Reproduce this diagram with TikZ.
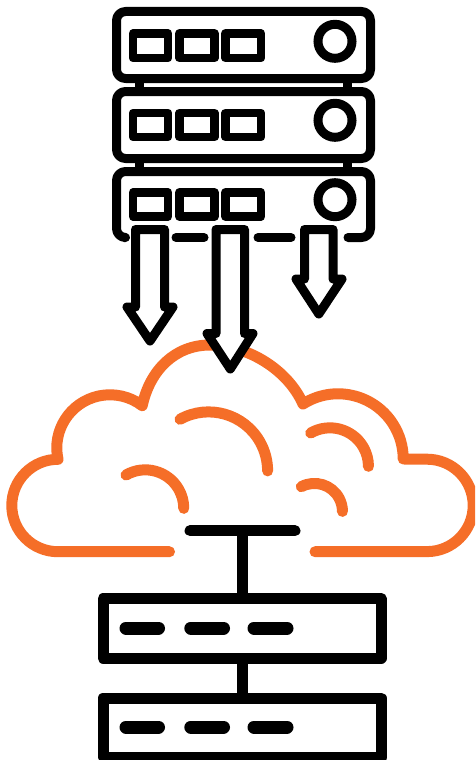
\documentclass[tikz,border=0pt]{standalone}
\definecolor{cloudorange}{HTML}{F56E28}
\tikzset{
  ink/.style={draw=black,line width=9pt,line join=round,line cap=round},
  chassis/.style={ink,rounded corners=9pt},
  slot/.style={draw=black,line width=8.7pt,line join=round,fill=white},
  knob/.style={draw=black,line width=9pt},
  downarrow/.style={draw=black,line width=9pt,line join=round,fill=white},
  cloudline/.style={draw=cloudorange,line width=11pt,line join=round,line cap=round},
  netbox/.style={draw=black,line width=11pt,line join=round},
  netline/.style={draw=black,line width=11pt,line cap=round},
  stem/.style={draw=black,line width=11pt},
  led/.style={draw=black,line width=13pt,line cap=round}
}
\begin{document}
\begin{tikzpicture}[x=1pt,y=1pt]
\useasboundingbox (0,0) rectangle (475,-760);
\clip (0,0) rectangle (475,-760);
\fill[white] (0,0) rectangle (475,-760);
% posts between servers
\draw[draw=black,line width=9pt] (139.5,-78) -- (139.5,-92) (347.5,-78) -- (347.5,-92);
\draw[draw=black,line width=9pt] (139.5,-158) -- (139.5,-172) (347.5,-158) -- (347.5,-172);
% servers
\draw[chassis] (116.5,-11.5) rectangle (370.5,-78.5);
\draw[chassis] (116.5,-91.5) rectangle (370.5,-158.5);
\draw[chassis] (124,-237.5) -- (116.5,-237.5) -- (116.5,-171.5) -- (370.5,-171.5) -- (370.5,-237.5) -- (348,-237.5);
\draw[ink] (176,-237.5) -- (204,-237.5);
\draw[ink] (258,-237.5) -- (291,-237.5);
% slots and knobs
\foreach \t/\b/\c in {33.5/58/41.3, 113/137/120.3, 192.5/216.5/199.7}{
  \draw[slot] (133,-\t) rectangle (168,-\b);
  \draw[slot] (179.5,-\t) rectangle (214.5,-\b);
  \draw[slot] (225.5,-\t) rectangle (261,-\b);
  \draw[knob] (335,-\c) circle[radius=17pt];
}
% cloud
\draw[cloudline] (169.5,-551.7) -- (58,-551.7)
  arc[start angle=270,end angle=90,radius=46.2pt]
  arc[start angle=192.3,end angle=52.7,radius=53.2pt]
  .. controls (150,-370) and (175,-345) .. (210,-345)
  .. controls (248,-345) and (288,-370) .. (303,-404)
  arc[start angle=122.5,end angle=0,radius=65.2pt]
  -- (427,-459.2)
  arc[start angle=90,end angle=-90,radius=46.2pt]
  -- (315,-551.7);
\draw[cloudline] (180,-419.3) arc[start angle=119,end angle=0,radius=59pt];
\draw[cloudline] (310.7,-433) arc[start angle=120,end angle=0,radius=38.5pt];
\draw[cloudline] (126,-475) arc[start angle=120,end angle=0,radius=38.5pt];
\draw[cloudline] (301.3,-486.7) arc[start angle=118,end angle=0,radius=28pt];
% arrows
\draw[downarrow] (135.5,-307) -- (135.5,-229.5) -- (164.5,-229.5) -- (164.5,-307) -- (173,-307) -- (150,-341) -- (127,-307) -- cycle;
\draw[downarrow] (216,-333.5) -- (216,-229.5) -- (244.5,-229.5) -- (244.5,-333.5) -- (253,-333.5) -- (230.3,-369) -- (207,-333.5) -- cycle;
\draw[downarrow] (304.5,-279) -- (304.5,-229.5) -- (333,-229.5) -- (333,-279) -- (342,-279) -- (318.8,-314) -- (296,-279) -- cycle;
% network
\draw[stem] (242.5,-530.7) -- (242.5,-598.5);
\draw[stem] (242.5,-658) -- (242.5,-698);
\draw[netline] (190,-530.7) -- (295,-530.7);
\draw[netbox] (103,-598.5) rectangle (381,-658);
\draw[netbox] (103,-698) rectangle (381,-757);
\foreach \y in {628,727}{
  \draw[led] (126,-\y) -- (158.5,-\y);
  \draw[led] (190.8,-\y) -- (223.5,-\y);
  \draw[led] (254,-\y) -- (287,-\y);
}
\end{tikzpicture}
\end{document}
